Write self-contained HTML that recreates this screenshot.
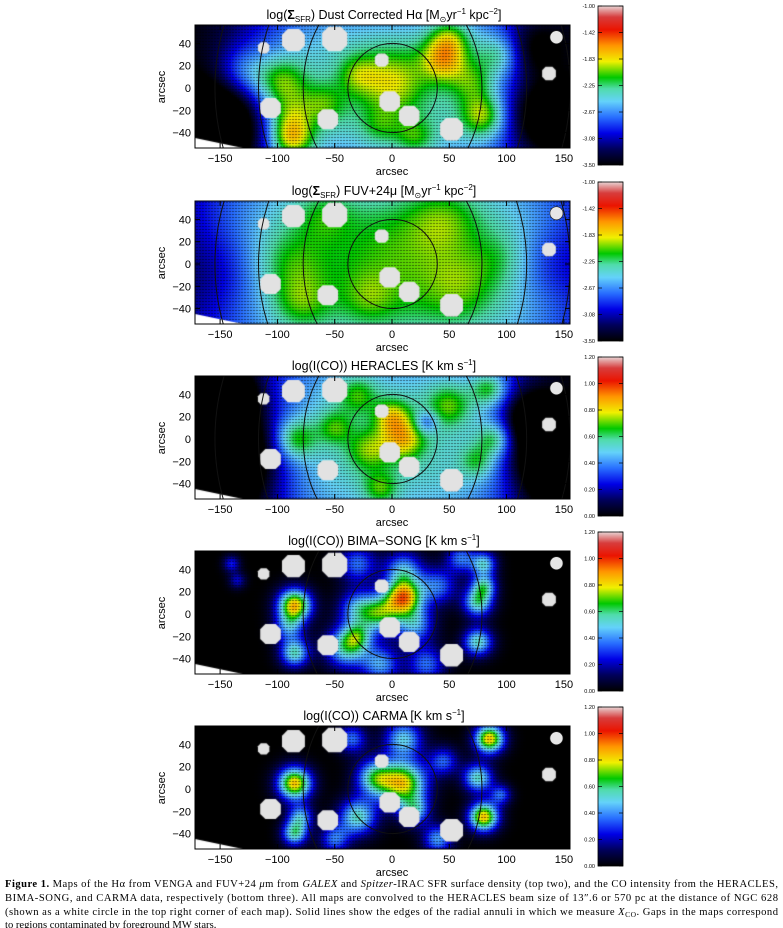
<!DOCTYPE html>
<html><head><meta charset="utf-8">
<style>
html,body{margin:0;padding:0;background:#fff;}
body{width:783px;height:928px;position:relative;overflow:hidden;}
canvas,svg{position:absolute;left:0;top:0;}
</style></head>
<body>
<canvas id="maps" width="783" height="928"></canvas>
<svg id="ov" width="783" height="928"></svg>
<script>
// ---------- data ----------
const panelTitles = ["Dust Corrected H\u03b1","FUV+24\u03bc","HERACLES","BIMA\u2212SONG","CARMA"];
const panelOffsets = [0,176,351,526,701];
const xTicks = [-150,-100,-50,0,50,100,150];
const yTicks = [-40,-20,0,20,40];
const sfrBarLabels = ["-1.00","-1.42","-1.83","-2.25","-2.67","-3.08","-3.50"];
const coBarLabels = ["1.20","1.00","0.80","0.60","0.40","0.20","0.00"];
// base plateau per panel: [amp, sx, sy]
const bases = [[0.44,130,85],[0.47,180,100],[0.44,120,90],[0.0,100,80],[0.0,100,80]];
const sigScale = [1.25,1.25,1.2,1.3,1.3];
const ampScale = [0.85,0.75,0.85,1.0,1.0];
// blobs per panel: [x, y, amp, sigma] (arcsec)
const blobs1 = [[-97,5,0.3,13],[-130,15,0.2,13],[-88,-47,0.38,11],[-90,-25,0.2,11],[-60,-15,0.18,11],[0,5,0.25,17],[-30,12,0.15,10],[45,25,0.3,11],[50,45,0.22,10],[80,-25,0.3,11],[95,30,0.22,11],[70,5,0.18,11],[20,-45,0.18,10],[-10,-35,0.12,10],[-150,-35,-0.45,20],[130,-25,-0.35,18],[120,35,-0.25,15]];
const blobs2 = [[0,0,0.14,32],[-90,0,0.16,18],[-80,-35,0.16,14],[60,-20,0.15,18],[45,40,0.16,18],[-60,45,0.12,14],[95,5,0.1,14],[-20,-30,0.1,12],[-150,-10,-0.14,25],[140,0,-0.12,20]];
const blobs3 = [[-85,0,0.3,11],[10,0,0.3,11],[0,20,0.25,9],[-20,-10,0.2,11],[50,30,0.2,11],[90,0,0.25,9],[85,45,0.25,9],[-10,-45,0.2,9],[75,-20,0.18,9],[-50,10,0.18,9],[-30,40,0.18,10],[-150,-15,-0.55,28],[140,-20,-0.5,20],[120,20,-0.35,14],[-135,40,-0.25,12],[30,15,-0.2,6]];
const blobs4 = [[-85,8,0.7,8],[-85,-35,0.45,7],[-90,-12,0.3,7],[10,15,0.7,9],[-10,0,0.45,9],[-30,5,0.35,9],[20,-10,0.35,9],[-40,-30,0.45,10],[-10,-45,0.35,9],[30,-45,0.3,9],[75,10,0.45,7],[75,-25,0.45,7],[80,45,0.4,6],[80,25,0.4,6],[40,25,0.3,9],[10,40,0.35,9],[-30,45,0.3,9],[60,50,0.3,7],[-140,45,0.22,4],[-135,30,0.18,4],[-30,-20,0.3,7]];
const blobs5 = [[-85,5,0.7,8],[-85,-40,0.45,6],[-80,-25,0.35,6],[10,5,0.65,11],[-15,10,0.45,9],[-30,-25,0.45,9],[20,-20,0.35,7],[80,-25,0.7,7],[75,10,0.45,7],[85,45,0.7,7],[10,45,0.4,9],[-35,45,0.3,7],[45,25,0.28,7],[-50,-45,0.3,7],[40,-45,0.35,7],[95,-5,0.28,5]];
const panelBlobs = [blobs1,blobs2,blobs3,blobs4,blobs5];
// masked stars: [x, y, half-size]
const stars = [[-86,43,10],[-50,44,11],[-112,36,5],[-9,25,6],[-2,-12,9],[15,-25,9],[-56,-28,9],[-106,-18,9],[52,-37,10],[137,13,6]];
const beam = [143.5,45.5,5.7];
// annuli: [a, b]
const annuli = [[39,40],[78,100],[117,147],[155,178]];
const annuliCount = [4,4,4,2,2];

// ---------- axes ----------
const X0=392, SX=1.146, Y0=88, SY=1.115;
const BOX={l:195,r:570,t:25,b:148};
const xs=v=>X0+SX*v;
const ys=(v,dy)=>Y0+dy-SY*v;

const stops=[[0,[0,0,0]],[0.1,[0,0,90]],[0.2,[0,0,230]],[0.3,[40,110,255]],[0.4,[100,210,250]],[0.48,[80,220,170]],[0.55,[0,200,0]],[0.65,[240,240,0]],[0.75,[255,150,0]],[0.85,[235,20,0]],[0.93,[215,60,60]],[1,[232,212,212]]];
function cmap(v){v=Math.max(0,Math.min(1,v));for(let i=1;i<stops.length;i++){if(v<=stops[i][0]){const a=stops[i-1],b=stops[i];const t=(v-a[0])/(b[0]-a[0]);return a[1].map((c,k)=>Math.round(c+(b[1][k]-c)*t));}}return stops[stops.length-1][1];}
function val(p,x,y){const b=bases[p];let v=b[0]*Math.exp(-Math.pow(x/b[1],4)-Math.pow(y/b[2],4));const k=sigScale[p],m=ampScale[p];for(const q of panelBlobs[p]){const dx=x-q[0],dy=y-q[1];const s=q[3]*k;v+=m*q[2]*Math.exp(-(dx*dx+dy*dy)/(2*s*s));}return v;}

const cv=document.getElementById('maps');const ctx=cv.getContext('2d');
const NS='http://www.w3.org/2000/svg';const svg=document.getElementById('ov');
function el(tag,attrs,parent){const e=document.createElementNS(NS,tag);for(const k in attrs)e.setAttribute(k,attrs[k]);(parent||svg).appendChild(e);return e;}

panelOffsets.forEach((dy,p)=>{
  const t=BOX.t+dy,b=BOX.b+dy;
  ctx.save();ctx.beginPath();ctx.rect(BOX.l,t,BOX.r-BOX.l,b-t);ctx.clip();
  const cs=2;
  for(let py=t;py<b;py+=cs){for(let px=BOX.l;px<BOX.r;px+=cs){
    const x=(px+cs/2-X0)/SX,y=(Y0+dy-(py+cs/2))/SY;
    const c=cmap(val(p,x,y));ctx.fillStyle='rgb('+c[0]+','+c[1]+','+c[2]+')';ctx.fillRect(px,py,cs,cs);}}
  ctx.fillStyle='rgba(0,0,0,0.55)';
  for(let py=t+1;py<b;py+=3)for(let px=BOX.l+1;px<BOX.r;px+=3)ctx.fillRect(px,py,2,1);
  ctx.fillStyle='#fff';ctx.beginPath();ctx.moveTo(BOX.l,b-10);ctx.lineTo(BOX.l+48,b);ctx.lineTo(BOX.l,b);ctx.closePath();ctx.fill();
  ctx.fillStyle='#e2e2e2';
  for(const s of stars){const x1=xs(s[0]-s[2]),x2=xs(s[0]+s[2]),y1=ys(s[1]+s[2],dy),y2=ys(s[1]-s[2],dy);const r=(x2-x1)*0.25;
    ctx.beginPath();ctx.moveTo(x1+r,y1);ctx.lineTo(x2-r,y1);ctx.lineTo(x2,y1+r);ctx.lineTo(x2,y2-r);ctx.lineTo(x2-r,y2);ctx.lineTo(x1+r,y2);ctx.lineTo(x1,y2-r);ctx.lineTo(x1,y1+r);ctx.closePath();ctx.fill();}
  ctx.restore();
});

panelOffsets.forEach((dy,p)=>{
  const g=el('g',{});
  
  
  const defs=el('clipPath',{id:'cp'+p},g);el('rect',{x:BOX.l,y:BOX.t+dy,width:BOX.r-BOX.l,height:BOX.b-BOX.t},defs);
  const ag=el('g',{'clip-path':'url(#cp'+p+')'},g);
  for(let i=0;i<annuliCount[p];i++){const a=annuli[i];
    const e=el('ellipse',{cx:xs(0.5),cy:ys(0,dy),rx:a[0]*SX,ry:a[1]*SY,fill:'none',stroke:'#111','stroke-width':1},ag);
    
    }
  const bm=el('circle',{cx:xs(beam[0]),cy:ys(beam[1],dy),r:beam[2]*SX,fill:'#e6e6e6',stroke:'#222','stroke-width':0.6},g);
  
  
  const fr=el('rect',{x:BOX.l,y:BOX.t+dy,width:BOX.r-BOX.l,height:BOX.b-BOX.t,fill:'none',stroke:'#000','stroke-width':1},g);
  
  
  for(const v of xTicks){const x=xs(v);
    el('line',{x1:x,x2:x,y1:BOX.b+dy,y2:BOX.b+dy-5,stroke:'#000'},g);el('line',{x1:x,x2:x,y1:BOX.t+dy,y2:BOX.t+dy+5,stroke:'#000'},g);
    const tx=el('text',{x:x,y:BOX.b+dy+14,'font-size':11,'text-anchor':'middle','font-family':'Liberation Sans, sans-serif'},g);tx.textContent=(v<0?'\u2212':'')+Math.abs(v);
    
    }
  for(const v of yTicks){const y=ys(v,dy);
    el('line',{x1:BOX.l,x2:BOX.l+5,y1:y,y2:y,stroke:'#000'},g);el('line',{x1:BOX.r,x2:BOX.r-5,y1:y,y2:y,stroke:'#000'},g);
    const tx=el('text',{x:BOX.l-4,y:y+4,'font-size':11,'text-anchor':'end','font-family':'Liberation Sans, sans-serif'},g);tx.textContent=(v<0?'\u2212':'')+Math.abs(v);
    
    }
  const xl=el('text',{x:392,y:BOX.b+dy+27,'font-size':11,'text-anchor':'middle','font-family':'Liberation Sans, sans-serif'},g);xl.textContent='arcsec';
  
  
  const yl=el('text',{x:0,y:0,'font-size':11,'text-anchor':'middle','font-family':'Liberation Sans, sans-serif',transform:'translate(165,'+(87+dy)+') rotate(-90)'},g);yl.textContent='arcsec';
  
  
  const tt=el('text',{x:384,y:19+dy,'font-size':12.5,'text-anchor':'middle','font-family':'Liberation Sans, sans-serif'},g);
  
  
  if(p<2){tt.innerHTML='log(<tspan font-weight="bold">\u03a3</tspan><tspan font-size="8" dy="3">SFR</tspan><tspan dy="-3">) '+panelTitles[p]+' [M</tspan><tspan font-size="8" dy="3">\u2299</tspan><tspan dy="-3">yr</tspan><tspan font-size="8" dy="-5">\u22121</tspan><tspan dy="5"> kpc</tspan><tspan font-size="8" dy="-5">\u22122</tspan><tspan dy="5">]</tspan>';}
  else{tt.innerHTML='log(I(CO)) '+panelTitles[p]+' [K km s<tspan font-size="8" dy="-5">\u22121</tspan><tspan dy="5">]</tspan>';}
  const cb=el('g',{},g);
  
  
  const gid='grad'+p;const lg=el('linearGradient',{id:gid,x1:0,y1:1,x2:0,y2:0},cb);
  stops.forEach(s=>{el('stop',{offset:s[0],'stop-color':'rgb('+s[1].join(',')+')'},lg);});
  const ct=6+dy,cbt=165+dy;
  el('rect',{x:598,y:ct,width:25,height:cbt-ct,fill:'url(#'+gid+')',stroke:'#000','stroke-width':0.8},cb);
  const labs=p<2?sfrBarLabels:coBarLabels;
  labs.forEach((L,i)=>{const y=ct+(cbt-ct)*i/(labs.length-1);
    el('line',{x1:598,x2:602,y1:y,y2:y,stroke:'#000','stroke-width':0.7},cb);el('line',{x1:623,x2:619,y1:y,y2:y,stroke:'#000','stroke-width':0.7},cb);
    const t=el('text',{x:595,y:y+2,'font-size':5.5,'text-anchor':'end','font-family':'Liberation Sans, sans-serif'},cb);t.textContent=L;
    
    });
});

const cap=el('text',{x:5,y:887,'font-size':10.6,'font-family':'Liberation Serif, serif'});


cap.innerHTML='<tspan x="5" y="887" textLength="773" lengthAdjust="spacing"><tspan font-weight="bold">Figure 1.</tspan> Maps of the H\u03b1 from VENGA and FUV+24 <tspan font-style="italic">\u03bc</tspan>m from <tspan font-style="italic">GALEX</tspan> and <tspan font-style="italic">Spitzer</tspan>-IRAC SFR surface density (top two), and the CO intensity from the HERACLES,</tspan>'+
'<tspan x="5" y="901" textLength="773" lengthAdjust="spacing">BIMA-SONG, and CARMA data, respectively (bottom three). All maps are convolved to the HERACLES beam size of 13\u2033.6 or 570 pc at the distance of NGC 628</tspan>'+
'<tspan x="5" y="915" textLength="773" lengthAdjust="spacing">(shown as a white circle in the top right corner of each map). Solid lines show the edges of the radial annuli in which we measure <tspan font-style="italic">X</tspan><tspan font-size="7.5" dy="2">CO</tspan><tspan dy="-2">. Gaps in the maps correspond</tspan></tspan>'+
'<tspan x="5" y="928">to regions contaminated by foreground MW stars.</tspan>';
</script>
</body></html>
